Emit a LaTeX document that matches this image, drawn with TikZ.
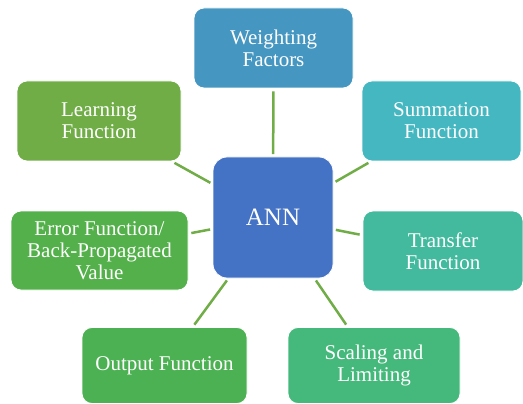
\documentclass[tikz,border=0pt]{standalone}
\usepackage{fontspec}
\setmainfont{Liberation Serif}
\newfontfamily\tmsfont{Liberation Serif}
\definecolor{cW}{HTML}{4596C1}
\definecolor{cS}{HTML}{45B7C1}
\definecolor{cL}{HTML}{70AD47}
\definecolor{cA}{HTML}{4472C4}
\definecolor{cE}{HTML}{53B04A}
\definecolor{cT}{HTML}{43BA9E}
\definecolor{cO}{HTML}{4CB152}
\definecolor{cSc}{HTML}{45B97B}
\definecolor{cLine}{HTML}{70AD47}
\tikzset{
  box/.style={draw=white, line width=0.8pt, rounded corners=10pt, text=white, align=center,
    font=\tmsfont\fontsize{21}{22}\selectfont, inner sep=0pt},
  link/.style={draw=cLine, line width=2.5pt, shorten <=2.5pt, shorten >=3pt}
}
\begin{document}
\begin{tikzpicture}[x=1pt,y=-1pt]
\useasboundingbox (0,0) rectangle (523,404);
\node[box, fill=cW, minimum width=159pt, minimum height=80pt] (W) at (273.5,48) {Weighting\\Factors};
\node[box, fill=cL, minimum width=164pt, minimum height=80pt] (L) at (99,121) {Learning\\Function};
\node[box, fill=cS, minimum width=159pt, minimum height=80pt] (S) at (441.5,121) {Summation\\Function};
\node[box, fill=cA, minimum width=120pt, minimum height=121pt, rounded corners=14pt,
  font=\tmsfont\fontsize{25}{27}\selectfont] (A) at (273,217.5) {ANN};
\node[box, fill=cE, minimum width=177pt, minimum height=79pt] (E) at (99.5,250.5) {Error Function/\\Back-Propagated\\Value};
\node[box, fill=cT, minimum width=160pt, minimum height=80pt] (T) at (443,251) {Transfer\\Function};
\node[box, fill=cO, minimum width=165pt, minimum height=76pt] (O) at (164.5,365.5) {Output Function};
\node[box, fill=cSc, minimum width=172pt, minimum height=76pt] (Sc) at (374,365.5) {Scaling and\\Limiting};
\draw[link] (A) -- (W);
\draw[link] (A) -- (L);
\draw[link] (A) -- (S);
\draw[link] (A) -- (E);
\draw[link] (A) -- (T);
\draw[link] (A) -- (O);
\draw[link] (A) -- (Sc);
\end{tikzpicture}
\end{document}
